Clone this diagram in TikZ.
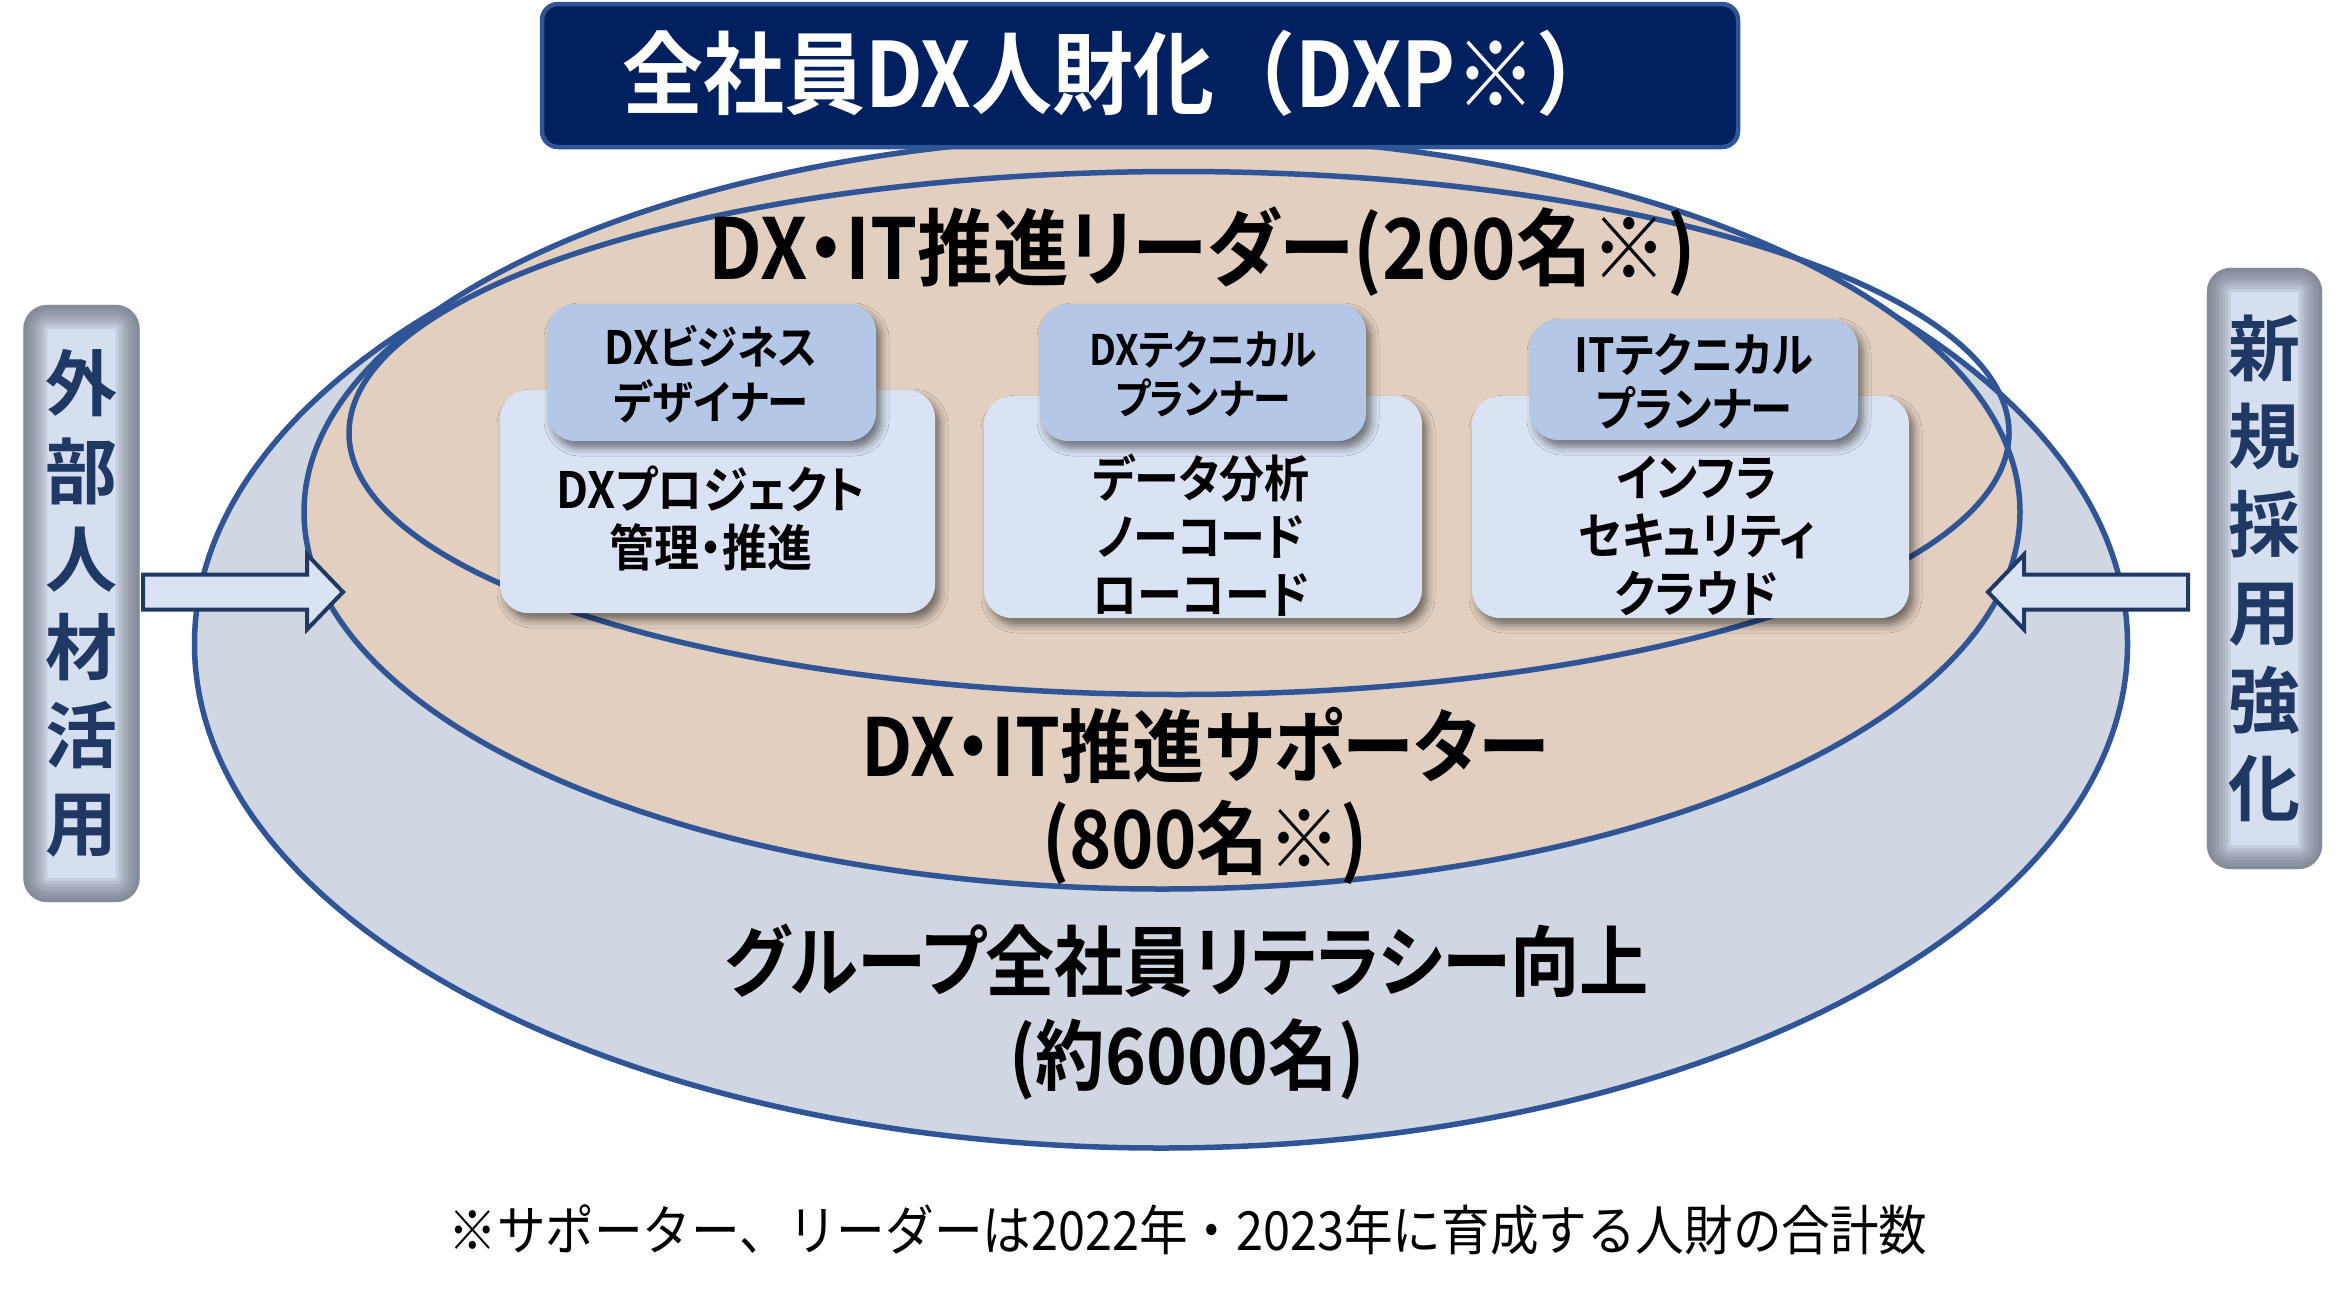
\documentclass[tikz,border=0pt]{standalone}
\usepackage{fontspec}
\setmainfont{Noto Sans CJK JP}[BoldFont=* Bold]
\newfontfamily\jpcond{Noto Sans CJK JP}[BoldFont=* Bold, FakeStretch=0.9, RawFeature=+palt]
\newfontfamily\jpfull{Noto Sans CJK JP}[BoldFont=* Bold, FakeStretch=0.9]
\usetikzlibrary{shapes.geometric, shadows.blur, positioning}

\definecolor{ringline}{HTML}{2F5597}
\definecolor{outerfill}{HTML}{D0D7E3}
\definecolor{midfill}{HTML}{E2CFC0}
\definecolor{titlefill}{HTML}{002060}
\definecolor{headfill}{HTML}{B4C7E7}
\definecolor{bodyfill}{HTML}{DAE3F3}
\definecolor{navytext}{HTML}{1F3864}
\definecolor{sidemid}{HTML}{D6DFEF}
\definecolor{sideedge}{HTML}{666C78}

\begin{document}
\begin{tikzpicture}[x=1pt, y=-1pt,
    ring/.style={ellipse, draw=ringline, line width=5.5pt, inner sep=0pt},
    titlebox/.style={rectangle, rounded corners=16pt, fill=titlefill, draw=ringline, line width=4.5pt},
    rolebox/.style={rectangle, rounded corners=28pt, fill=headfill,
        blur shadow={shadow xshift=5pt, shadow yshift=-7pt, shadow blur radius=8pt, shadow opacity=50}},
    skillbox/.style={rolebox, fill=bodyfill},
    sidebox/.style={rectangle, rounded corners=24pt, fill=sidemid},
    sidetext/.style={align=center, text=navytext, font=\bfseries\fontsize{72}{88}\selectfont},
    fatarrow/.style={fill=bodyfill, draw=navytext, line width=4pt},
    bigtext/.style={align=center, font=\jpcond\bfseries\fontsize{80}{92}\selectfont},
    roletext/.style={align=center, font=\jpcond\bfseries\fontsize{46}{55}\selectfont},
    skilltext/.style={align=center, font=\jpcond\bfseries\fontsize{50}{58}\selectfont}
]
\useasboundingbox (0,0) rectangle (2345,1291);

% three circles of staff
\node[ring, fill=outerfill, minimum width=1933pt, minimum height=1008pt] (literacy) at (1161,644) {};
\node[ring, fill=midfill, minimum width=1716pt, minimum height=754pt] (supporter) at (1162,512) {};
\node[ring, minimum width=1660pt, minimum height=523pt] (leader) at (1179,433) {};

\node[bigtext, font=\jpcond\bfseries\fontsize{84}{92}\selectfont] (leadertext) at (1202,252) {DX・IT推進リーダー(200名※)};
\node[bigtext] (supportertext) at (1205,796) {DX・IT推進サポーター\\(800名※)};
\node[bigtext, font=\jpcond\bfseries\fontsize{77}{94}\selectfont] (literacytext) at (1187,1012) {グループ全社員リテラシー向上\\(約6000名)};

% title
\node[titlebox, minimum width=1196pt, minimum height=143pt] (dxpbox) at (1140,75.5) {};
\node[text=white, font=\jpfull\bfseries\fontsize{90}{92}\selectfont] (dxptitle) at (1120,73) {全社員DX人財化（DXP※）};

% side boxes with soft darker rim
\node[sidebox, minimum width=116pt, minimum height=597pt] (extbox) at (81.5,603.5) {};
\node[sidebox, minimum width=115pt, minimum height=601pt] (hirebox) at (2264.5,568.5) {};
\foreach \bx in {extbox, hirebox} {
  \begin{scope}
    \clip[rounded corners=24pt] (\bx.south west) rectangle (\bx.north east);
    \foreach \w in {6,12,...,48}
      \draw[sideedge, opacity=0.14, line width=\w pt, rounded corners=24pt] (\bx.south west) rectangle (\bx.north east);
  \end{scope}
}
\node[sidetext] (exttext) at (extbox) {外\\部\\人\\材\\活\\用};
\node[sidetext] (hiretext) at (hirebox) {新\\規\\採\\用\\強\\化};

\coordinate (exttip) at (343,592);
\coordinate (hiretip) at (1988,592);
\draw[fatarrow] (exttip) -- ++(-36,-37.5) -- ++(0,20) -- ++(-164,0) -- ++(0,35) -- ++(164,0) -- ++(0,20) -- cycle;
\draw[fatarrow] (hiretip) -- ++(36,-37.5) -- ++(0,20) -- ++(164,0) -- ++(0,35) -- ++(-164,0) -- ++(0,20) -- cycle;

% leader roles
\node[skillbox, minimum width=435pt, minimum height=223pt] (bizbody) at (717.5,501.5) {};
\node[rolebox, minimum width=329pt, minimum height=137pt] (bizhead) at (711.5,372.5) {};
\node[skillbox, minimum width=438pt, minimum height=222pt] (techbody) at (1203,507) {};
\node[rolebox, minimum width=326pt, minimum height=137pt] (techhead) at (1203,372.5) {};
\node[skillbox, minimum width=437pt, minimum height=222pt] (itbody) at (1690.5,507) {};
\node[rolebox, minimum width=328pt, minimum height=121pt] (ithead) at (1694,379.5) {};

\node[roletext] (biztitle) at (711,374) {DXビジネス\\デザイナー};
\node[skilltext] (bizskill) at (711,518) {DXプロジェクト\\管理・推進};
\node[roletext, font=\jpcond\bfseries\fontsize{42}{49}\selectfont] (techtitle) at (1203,374) {DXテクニカル\\プランナー};
\node[skilltext] (techskill) at (1201,535) {データ分析\\ノーコード\\ローコード};
\node[roletext, font=\jpcond\bfseries\fontsize{47}{54}\selectfont] (ittitle) at (1694,381) {ITテクニカル\\プランナー};
\node[skilltext] (itskill) at (1697,535.5) {インフラ\\セキュリティ\\クラウド};

\node[font=\jpfull\fontsize{54}{60}\selectfont] (note) at (1188,1230) {※サポーター、リーダーは2022年・2023年に育成する人財の合計数};
\end{tikzpicture}
\end{document}
